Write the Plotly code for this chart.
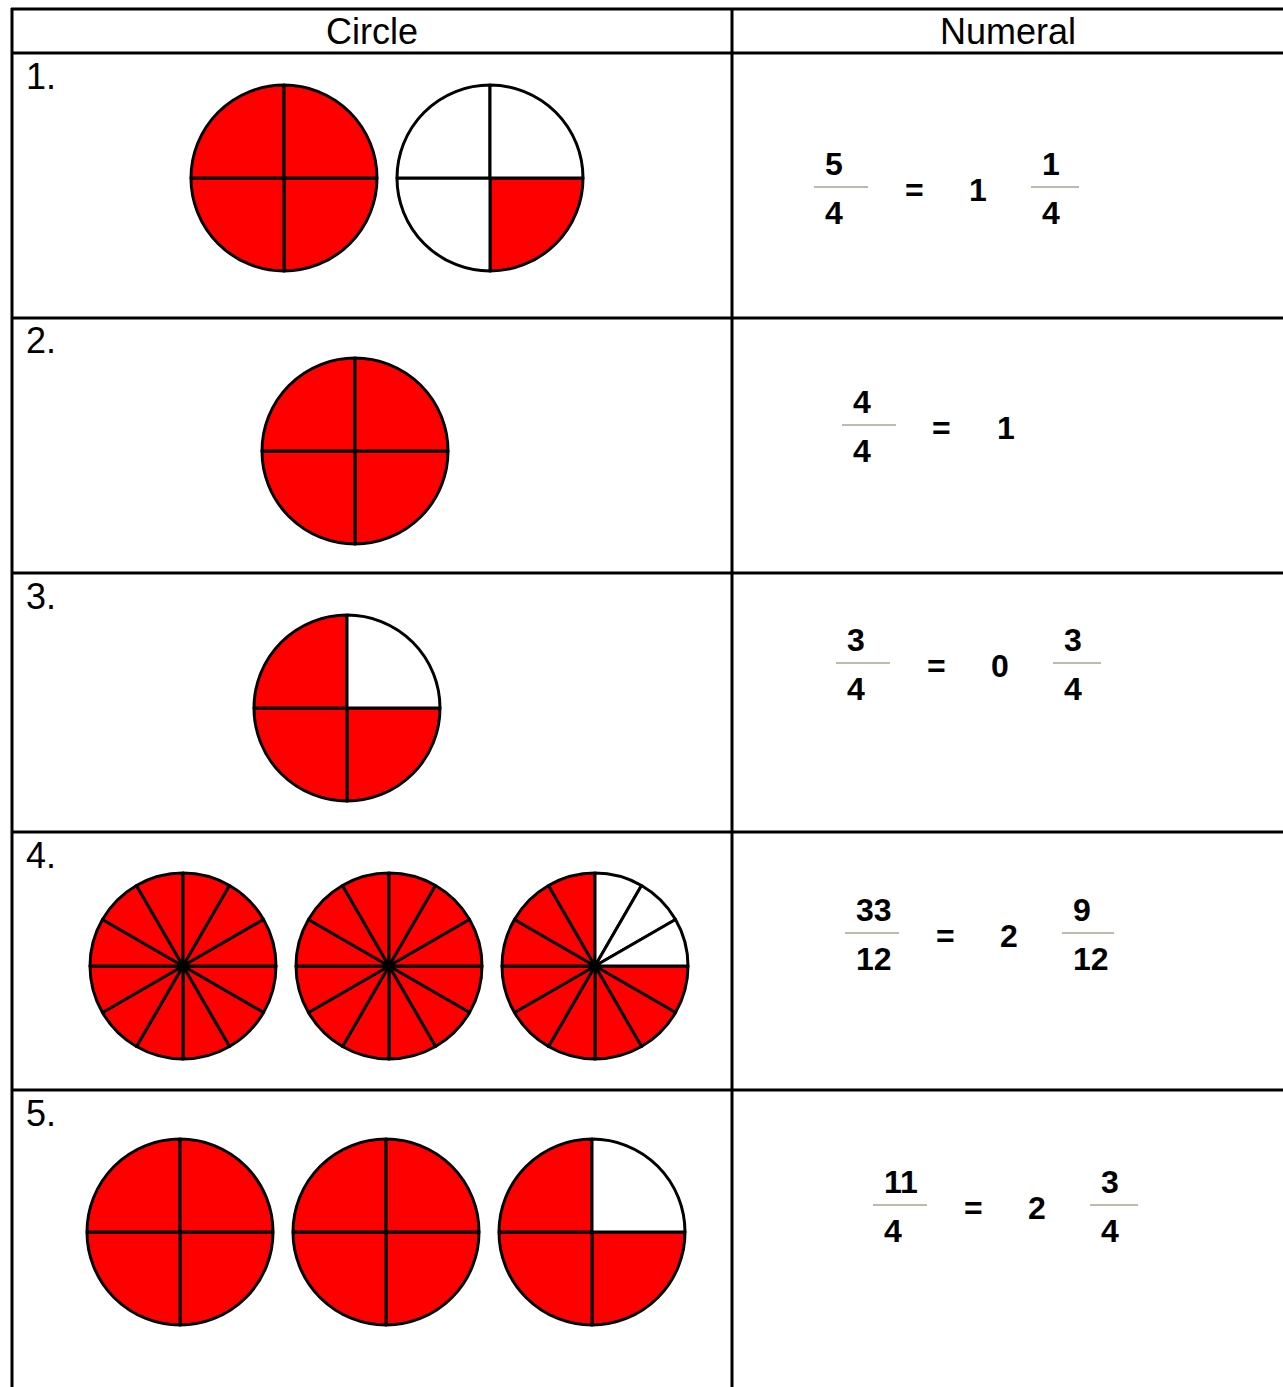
import plotly.graph_objects as go

W, H = 1283, 1387

# ---- data ----
headers = ["Circle", "Numeral"]
row_labels = ["1.", "2.", "3.", "4.", "5."]

# per row: number of equal parts in each circle, and how many are shaded
circle_parts = [[4, 4], [4], [4], [12, 12, 12], [4, 4, 4]]
circle_shaded = [[4, 1], [4], [3], [12, 12, 9], [4, 4, 3]]

numerators = [5, 4, 3, 33, 11]
denominators = [4, 4, 4, 12, 4]
whole_parts = [1, 1, 0, 2, 2]
remainders = [1, 0, 3, 9, 3]   # 0 -> no fraction shown

# ---- layout, in pixels ----
col_x = [12, 732]
row_lines = [9, 53, 318, 573, 832, 1090]
circle_cx = [[284, 490], [355], [347], [183, 389, 595], [180, 386, 592]]
circle_cy = [178, 451, 708, 966, 1232]
radius = 93
frac_x0 = [814, 842, 836, 845, 873]      # left end of the first fraction bar
frac_bar_y = [187, 425, 663, 933, 1205]

RED = "#ff0000"
BAR_GREY = "#bcbcac"
TXT_FONT = "Liberation Sans, Arial, sans-serif"


def fx(px):
    return px / W


def fy(py):
    return 1 - py / H


fig = go.Figure()

# circles as pies
for r, (parts_row, shaded_row) in enumerate(zip(circle_parts, circle_shaded)):
    for j, (parts, shaded) in enumerate(zip(parts_row, shaded_row)):
        cx, cy = circle_cx[r][j], circle_cy[r]
        colors = [RED] * shaded + ["white"] * (parts - shaded)
        fig.add_trace(go.Pie(
            values=[1] * parts,
            sort=False,
            direction="clockwise",
            rotation=90,
            marker=dict(colors=colors, line=dict(color="black", width=3)),
            textinfo="none",
            hoverinfo="skip",
            showlegend=False,
            domain=dict(x=[fx(cx - radius), fx(cx + radius)],
                        y=[fy(cy + radius), fy(cy - radius)]),
        ))

shapes = []
# table grid
for y in row_lines:
    shapes.append(dict(type="line", xref="paper", yref="paper",
                       x0=fx(col_x[0] - 1), x1=fx(W), y0=fy(y), y1=fy(y),
                       line=dict(color="black", width=3)))
for x in col_x:
    shapes.append(dict(type="line", xref="paper", yref="paper",
                       x0=fx(x), x1=fx(x), y0=fy(row_lines[0] - 1), y1=fy(H),
                       line=dict(color="black", width=3)))

annotations = []


def add_text(x, y, text, size, bold=False, xanchor="center"):
    annotations.append(dict(
        x=fx(x), y=fy(y), xref="paper", yref="paper", text=text,
        showarrow=False, xanchor=xanchor, yanchor="middle", borderpad=0,
        font=dict(family=TXT_FONT, size=size, color="black",
                  weight="bold" if bold else "normal"),
    ))


add_text((col_x[0] + col_x[1]) / 2, 31, headers[0], 36)
add_text((col_x[1] + W) / 2, 31, headers[1], 36)

for r, lab in enumerate(row_labels):
    add_text(25, row_lines[r + 1] + 23, lab, 36, xanchor="left")


def add_fraction(x0, width, ybar, num, den):
    shapes.append(dict(type="line", xref="paper", yref="paper",
                       x0=fx(x0), x1=fx(x0 + width), y0=fy(ybar), y1=fy(ybar),
                       line=dict(color=BAR_GREY, width=2)))
    add_text(x0 + 10, ybar - 23, str(num), 32, bold=True, xanchor="left")
    add_text(x0 + 10, ybar + 26, str(den), 32, bold=True, xanchor="left")


for r in range(len(numerators)):
    x0, yb = frac_x0[r], frac_bar_y[r]
    add_fraction(x0, 54, yb, numerators[r], denominators[r])
    add_text(x0 + 100, yb + 3, "=", 32, bold=True)
    add_text(x0 + 164, yb + 3, str(whole_parts[r]), 32, bold=True)
    if remainders[r]:
        w2 = 48 if denominators[r] < 10 else 52
        add_fraction(x0 + 217, w2, yb, remainders[r], denominators[r])

fig.update_layout(
    width=W, height=H,
    margin=dict(l=0, r=0, t=0, b=0),
    paper_bgcolor="white", plot_bgcolor="white",
    shapes=shapes, annotations=annotations,
)

fig.write_html("out.html", config={"displayModeBar": False},
               post_script="document.body.style.margin='0';")
